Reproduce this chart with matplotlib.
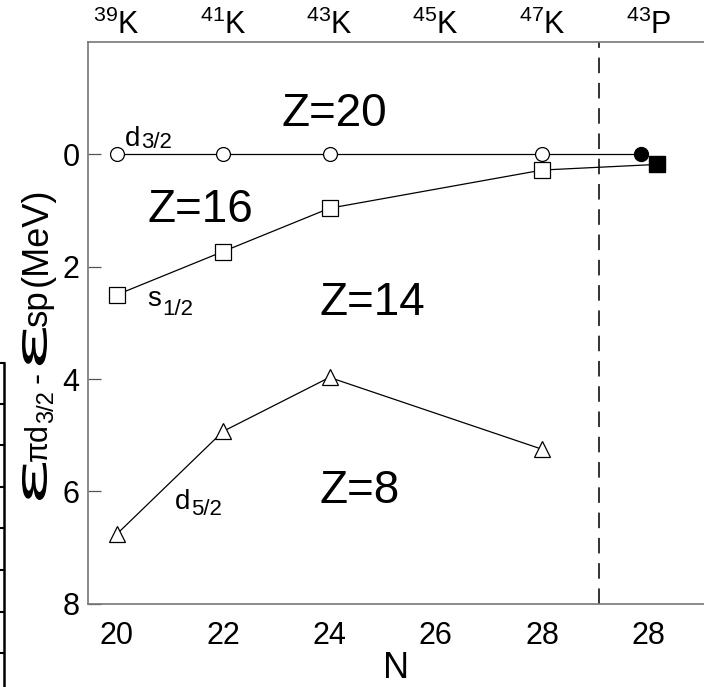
import numpy as np
import matplotlib.pyplot as plt
from matplotlib.lines import Line2D
from matplotlib.textpath import TextPath
from matplotlib.patches import PathPatch
from matplotlib.font_manager import FontProperties
from matplotlib.transforms import Affine2D, IdentityTransform

plt.rcParams['font.family'] = ['Liberation Sans', 'DejaVu Sans']
plt.rcParams['mathtext.fontset'] = 'custom'
plt.rcParams['mathtext.rm'] = 'Liberation Sans'
plt.rcParams['mathtext.it'] = 'Liberation Sans:italic'

# isotopes along the top, neutron number along the bottom
nuclei = [r'$^{39}$K', r'$^{41}$K', r'$^{43}$K', r'$^{45}$K', r'$^{47}$K', r'$^{43}$P']
n_labels = ['20', '22', '24', '26', '28', '28']

# potassium chain (positions 0..4 -> N=20..28)
k_pos = [0, 1, 2, 4]
d32 = [0.0, 0.0, 0.0, 0.0]
s12 = [2.5, 1.73, 0.96, 0.28]
d52 = [6.76, 4.93, 3.97, 5.25]

# 43P points
p_d32 = 0.0
p_s12 = 0.18

fig = plt.figure(figsize=(7.04, 6.87), dpi=100)
ax = fig.add_axes([0.125, 0.121, 0.875, 0.818])

lw = 0.9
ax.plot(k_pos + [4.93], d32 + [p_d32], color='black', lw=lw, zorder=2)
ax.plot(k_pos, d32, 'o', ms=10, mfc='white', mec='black', mew=0.9, zorder=3)
ax.plot([4.93], [p_d32], 'o', ms=10, color='black', zorder=3)

ax.plot(k_pos + [5.08], s12 + [p_s12], color='black', lw=lw, zorder=2)
ax.plot(k_pos, s12, 's', ms=11, mfc='white', mec='black', mew=0.9, zorder=3)
ax.plot([5.08], [p_s12], 's', ms=11, color='black', zorder=3)

ax.plot(k_pos, d52, '^', ls='-', color='black', lw=lw, ms=12,
        mfc='white', mec='black', mew=0.9, zorder=3)

ax.axvline(4.53, color='#333333', lw=1.4, ls=(0, (8, 5)), zorder=1)

ax.set_xlim(-0.27, 5.52)
ax.set_ylim(8, -2)
ax.set_xticks(range(6))
ax.set_xticklabels(n_labels, fontsize=22)
ax.set_yticks([0, 2, 4, 6, 8])
ax.set_yticklabels(['0', '2', '4', '6', '8'], fontsize=22)
ax.tick_params(axis='x', length=0, pad=12)
ax.tick_params(axis='y', direction='in', length=9, width=0.9,
               color='#555555', pad=6)

for side in ['left', 'top', 'bottom']:
    ax.spines[side].set_color('#777777')
    ax.spines[side].set_linewidth(1.2)
ax.spines['right'].set_visible(False)

top = ax.secondary_xaxis('top')
top.set_xticks(range(6))
top.set_xticklabels(nuclei, fontsize=22)
top.tick_params(length=0, pad=0.5)
top.spines['top'].set_visible(False)

ax.set_xlabel('N', fontsize=26, labelpad=0)

# shell-gap labels (baseline-anchored)
for x, y, s in [(1.55, -0.5, 'Z=20'), (0.29, 1.21, 'Z=16'),
                (1.91, 2.86, 'Z=14'), (1.91, 6.21, 'Z=8')]:
    ax.text(x, y, s, fontsize=33, ha='left', va='baseline')

renderer = fig.canvas.get_renderer()
px = IdentityTransform()


def run_text(x0, y0, pieces, vertical=False):
    # lay out text pieces one after another, pieces = (text, size, drop, gap)
    pos = 0.0
    for s, size, drop, gap in pieces:
        if vertical:
            t = fig.text(x0 + drop, y0 + pos, s, fontsize=size, rotation=90,
                         rotation_mode='anchor', ha='left', va='baseline',
                         transform=px)
            pos += t.get_window_extent(renderer).height + gap
        else:
            t = fig.text(x0 + pos, y0 - drop, s, fontsize=size,
                         ha='left', va='baseline', transform=px)
            pos += t.get_window_extent(renderer).width + gap
    return pos


def orbit_label(x, y, main, sub, drop):
    x0, y0 = ax.transData.transform((x, y))
    run_text(x0, y0, [(main, 20, 0, 1), (sub, 16, drop, 0)])


orbit_label(0.075, -0.14, 'd', '3/2', 2)
orbit_label(0.29, 2.70, 's', '1/2', 9)
orbit_label(0.545, 6.32, 'd', '5/2', 6)


def big_eps(x0, y0):
    # wide epsilon glyph, rotated to read upwards; returns its length
    tp = TextPath((0, 0), 'ε', size=1, prop=FontProperties(family='DejaVu Sans'))
    ext = tp.get_extents()
    sx = 37 / ext.width
    sy = 25 / ext.height
    tr = (Affine2D().translate(-ext.x0, -ext.y0).scale(sx, sy)
          .rotate_deg(90).translate(x0, y0))
    fig.add_artist(PathPatch(tp, transform=tr, color='black', lw=0))
    return 37


# y-axis label, built bottom to top
base_x = 47
y = 687 - 500
y += big_eps(base_x, y) + 2
y += run_text(base_x, y, [('πd', 22, 0, 0), ('3/2', 17, 6, 7), ('-', 24, 0, 7)],
              vertical=True)
y += big_eps(base_x, y) + 2
run_text(base_x, y, [('sp', 25, 0, 3), ('(MeV)', 26, 0, 0)], vertical=True)

# edge of the neighbouring table on the left
H = 687.0
fig.add_artist(Line2D([4 / 704, 4 / 704], [0, 1 - 363 / H], color='black', lw=1.8))
for yp in [363, 404, 445, 487, 528, 570, 612, 653]:
    fig.add_artist(Line2D([0, 4 / 704], [1 - yp / H] * 2, color='black', lw=1.5))

fig.savefig('out.png', dpi=100)
